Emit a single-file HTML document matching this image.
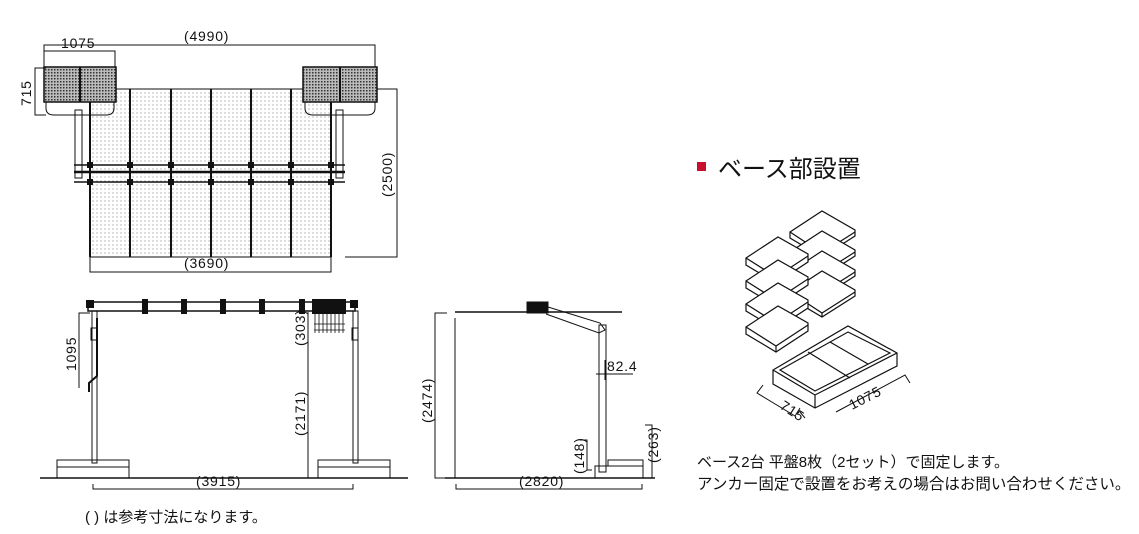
<!DOCTYPE html>
<html><head><meta charset="utf-8"><style>
html,body{margin:0;padding:0;background:#fff;}
svg{display:block;}
text{font-family:"Liberation Sans","Noto Sans CJK JP",sans-serif;fill:#111;}
</style></head><body>
<svg width="1139" height="534" viewBox="0 0 1139 534" xmlns="http://www.w3.org/2000/svg">
<defs>
<pattern id="dots" width="4" height="4" patternUnits="userSpaceOnUse"><rect width="4" height="4" fill="#fff"/><circle cx="1" cy="1" r="0.6" fill="#888"/></pattern>
<pattern id="dense" width="3" height="3" patternUnits="userSpaceOnUse"><rect width="3" height="3" fill="#bbb"/><rect x="0" y="0" width="1.5" height="1.5" fill="#333"/></pattern>
</defs>
<g stroke="#111" fill="none" stroke-width="1">
<rect x="90" y="89" width="241" height="168" fill="url(#dots)"/>
<g stroke-width="2">
<line x1="90" y1="89" x2="90" y2="257"/><line x1="130" y1="89" x2="130" y2="257"/><line x1="171" y1="89" x2="171" y2="257"/><line x1="211" y1="89" x2="211" y2="257"/><line x1="251" y1="89" x2="251" y2="257"/><line x1="291" y1="89" x2="291" y2="257"/><line x1="331" y1="89" x2="331" y2="257"/>
</g>
<rect x="44" y="67" width="72" height="35" fill="url(#dense)" stroke-width="1.5"/>
<line x1="80" y1="67" x2="80" y2="102" stroke-width="2"/>
<path d="M46 102 v6 q0 7 8 7 h52 q8 0 8 -7 v-6"/>
<rect x="303" y="67" width="74" height="35" fill="url(#dense)" stroke-width="1.5"/>
<line x1="340" y1="67" x2="340" y2="102" stroke-width="2"/>
<path d="M305 102 v6 q0 7 8 7 h54 q8 0 8 -7 v-6"/>
<rect x="75" y="110" width="7" height="68"/><rect x="336" y="110" width="7" height="68"/>
<line x1="74" y1="165" x2="345" y2="165" stroke-width="1.5"/>
<line x1="74" y1="172" x2="345" y2="172" stroke-width="2.5"/>
<line x1="74" y1="182" x2="345" y2="182" stroke-width="1.5"/>
<g fill="#111" stroke="none">
<rect x="87" y="162" width="6" height="6"/><rect x="127" y="162" width="6" height="6"/><rect x="168" y="162" width="6" height="6"/><rect x="208" y="162" width="6" height="6"/><rect x="248" y="162" width="6" height="6"/><rect x="288" y="162" width="6" height="6"/><rect x="328" y="162" width="6" height="6"/>
<rect x="87" y="179" width="6" height="6"/><rect x="127" y="179" width="6" height="6"/><rect x="168" y="179" width="6" height="6"/><rect x="208" y="179" width="6" height="6"/><rect x="248" y="179" width="6" height="6"/><rect x="288" y="179" width="6" height="6"/><rect x="328" y="179" width="6" height="6"/>
</g>
<path d="M44 67 V45 H375 V67"/>
<path d="M44 51 H115 V67"/>
<path d="M46 68 H35 V115 H46"/>
<path d="M377 89 H397 V257 H345"/>
<path d="M90 257 V272 H331 V257"/>

<line x1="40" y1="478" x2="408" y2="478" stroke-width="1.5"/>
<rect x="88" y="302" width="267" height="9" stroke-width="1.5"/>
<g fill="#111" stroke="none">
<rect x="142" y="299" width="6" height="15"/><rect x="181" y="299" width="6" height="15"/><rect x="220" y="299" width="6" height="15"/><rect x="259" y="299" width="6" height="15"/><rect x="299" y="299" width="6" height="15"/>
<rect x="312" y="299" width="34" height="15"/>
<rect x="86" y="300" width="8" height="8"/><rect x="350" y="300" width="8" height="8"/>
</g>
<g stroke-width="0.8"><path d="M315 314 v19 M319 314 v19 M323 314 v19 M327 314 v19 M331 314 v19 M335 314 v19 M339 314 v19 M343 314 v19 M314 324 h31 M314 330 h31"/></g>
<rect x="92" y="311" width="5" height="152"/><rect x="353" y="311" width="5" height="152"/>
<path d="M97 318 v58 l-8 7 v9" stroke-width="2"/>
<rect x="91" y="328" width="6" height="12"/><rect x="352" y="328" width="6" height="12"/>
<rect x="57" y="460" width="72" height="18"/><line x1="57" y1="467" x2="129" y2="467"/>
<rect x="318" y="460" width="72" height="18"/><line x1="318" y1="467" x2="390" y2="467"/>
<path d="M90 313 H79 V388"/>
<line x1="308" y1="312" x2="308" y2="478"/>
<path d="M93 484 V489 H353 V484"/>

<line x1="445" y1="478" x2="655" y2="478" stroke-width="1.5"/>
<line x1="455" y1="312" x2="622" y2="312" stroke-width="1.5"/>
<rect x="527" y="302" width="21" height="11" fill="#111"/>
<path d="M548 307 L600 323 L605 330 L599 333 L546 314"/>
<rect x="599" y="325" width="7" height="147"/>
<rect x="595" y="466" width="48" height="12"/><rect x="608" y="460" width="35" height="6"/>
<path d="M447 313 H435 V478 H447"/>
<line x1="455" y1="318" x2="455" y2="478"/>
<line x1="596" y1="374" x2="633" y2="374"/><line x1="605" y1="360" x2="605" y2="380"/>
<path d="M580 440 H587 V470 H592"/>
<path d="M645 425 H652 V478"/>
<path d="M456 484 V489 H642 V484"/>

<g fill="#fff" stroke-width="1.2">
<g id="pr">
<path d="M790 232 L822 211 L855 230 V236 L822 257 L790 238 Z"/><path d="M790 232 L822 253 L855 232 M822 253 V257"/>
</g>
<use href="#pr" y="20"/><use href="#pr" y="40"/><use href="#pr" y="60"/>
<g id="pl">
<path d="M746 258 L778 237 L808 254 V262 L776 283 L746 265 Z"/><path d="M746 258 L776 277 L808 256 M776 277 V283"/>
</g>
<use href="#pl" y="23"/><use href="#pl" y="46"/><use href="#pl" y="69"/>
<path d="M773 370 L848 326 L897 353 L897 366 L815 408 L773 384 Z"/>
<path d="M773 370 L815 395 L897 353 M815 395 V408"/>
<path d="M780 370 L848 332 L890 353 L815 391 Z"/>
<path d="M808 352 L850 378 M830 342 L868 364"/>
</g>
<path d="M763 385 L757 393 L795 416 L800 408 M800 412 L805 418 M836 412 L905 375 L910 383"/>
</g>
<g font-size="14" letter-spacing="0.8">
<text x="184" y="41">(4990)</text>
<text x="61" y="48">1075</text>
<text x="31" y="106" transform="rotate(-90 31 106)">715</text>
<text x="392" y="197" transform="rotate(-90 392 197)">(2500)</text>
<text x="184" y="268">(3690)</text>
<text x="76" y="371" transform="rotate(-90 76 371)">1095</text>
<text x="305" y="346" transform="rotate(-90 305 346)">(303)</text>
<text x="305" y="436" transform="rotate(-90 305 436)">(2171)</text>
<text x="196" y="486">(3915)</text>
<text x="432" y="423" transform="rotate(-90 432 423)">(2474)</text>
<text x="607" y="371">82.4</text>
<text x="584" y="474" transform="rotate(-90 584 474)">(148)</text>
<text x="658" y="463" transform="rotate(-90 658 463)">(263)</text>
<text x="519" y="486">(2820)</text>
<text x="779" y="408" transform="rotate(33 779 408)">715</text>
<text x="852" y="410" transform="rotate(-27 852 410)">1075</text>
</g>
<rect x="697" y="162" width="9" height="9" fill="#c8102e"/>
<text x="718" y="177" font-size="24">ベース部設置</text>
<text x="697" y="467" font-size="15">ベース2台 平盤8枚（2セット）で固定します。</text>
<text x="697" y="489" font-size="15.5">アンカー固定で設置をお考えの場合はお問い合わせください。</text>
<text x="85" y="522" font-size="15">( ) は参考寸法になります。</text>
</svg>
</body></html>
